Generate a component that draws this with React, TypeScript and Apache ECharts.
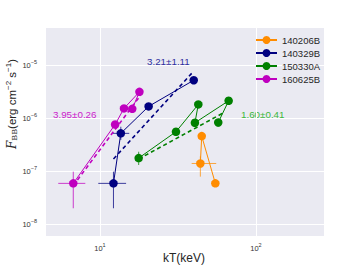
import React, { useEffect, useRef } from "react";
import * as echarts from "echarts";

const names = ["140206B", "140329B", "150330A", "160625B"];
const colors = ["#FF8C00", "#000080", "#008000", "#BF00BF"];

const kt140206 = [44.0, 44.9, 54.9];
const f140206 = [1.4e-7, 4.6e-7, 5.9e-8];
const kt140329 = [12.2, 13.6, 20.5, 39.9];
const f140329 = [5.9e-8, 5.18e-7, 1.67e-6, 5.2e-6];
const kt150330 = [17.7, 30.7, 42.7, 40.6, 66.8, 57.3];
const f150330 = [1.77e-7, 5.55e-7, 1.82e-6, 8.2e-7, 2.13e-6, 8.3e-7];
const kt160625 = [6.74, 12.5, 14.25, 17.9, 16.1];
const f160625 = [5.9e-8, 7.6e-7, 1.53e-6, 3.14e-6, 1.5e-6];

// error bars: [group, x, y, xlo, xhi, ylo, yhi]
const errGroup = [0, 0, 1, 1, 2, 2, 3];
const errX = [44.0, 44.9, 12.2, 13.6, 17.7, 57.3, 6.74];
const errY = [1.4e-7, 4.6e-7, 5.9e-8, 5.18e-7, 1.77e-7, 8.3e-7, 5.9e-8];
const errXlo = [38.7, 44.9, 9.75, 12.05, 17.7, 57.3, 5.4];
const errXhi = [55.6, 44.9, 14.7, 15.4, 17.7, 57.3, 8.05];
const errYlo = [7.9e-8, 3.9e-7, 2.0e-8, 3.9e-7, 1.31e-7, 6.9e-7, 2.0e-8];
const errYhi = [1.91e-7, 5.5e-7, 9.8e-8, 6.9e-7, 2.33e-7, 9.8e-7, 9.8e-8];

// fitted lines (endpoints)
const fit140329X = [12.2, 38.7];
const fit140329Y = [1.7e-7, 7.0e-6];
const fit150330X = [17.7, 63.0];
const fit150330Y = [1.7e-7, 1.3e-6];
const fit160625X = [6.74, 18.2];
const fit160625Y = [5.37e-8, 2.7e-6];

const slopeLabels = ["3.21±1.11", "1.60±0.41", "3.95±0.26"];

const zip = (a: number[], b: number[]) => a.map((v, i) => [v, b[i]]);

const supFmt = (v: number) => {
  const e = Math.log10(v);
  const r = Math.round(e);
  if (Math.abs(e - r) > 1e-6) return "";
  return "10{s|" + String(r).replace("-", "\u2212") + "}";
};

export default function App() {
  const ref = useRef<HTMLDivElement>(null);
  useEffect(() => {
    if (!ref.current) return;
    const chart = echarts.init(ref.current, undefined, { renderer: "svg" });
    const font = "Liberation Sans, Arial, sans-serif";
    const tickRich = {
      s: { fontSize: 5.5, fontFamily: font, color: "#333", padding: [0, 0, 6, 0] },
    };
    const pointSeries = [
      [kt140206, f140206],
      [kt140329, f140329],
      [kt150330, f150330],
      [kt160625, f160625],
    ].map(([x, y], i) => ({
      name: names[i],
      type: "line",
      data: zip(x, y),
      symbol: "circle",
      symbolSize: 8.5,
      showAllSymbol: true,
      z: 5,
      lineStyle: { width: 1, color: colors[i] },
      itemStyle: { color: colors[i] },
    }));
    const fits = [
      [fit140329X, fit140329Y, 1],
      [fit150330X, fit150330Y, 2],
      [fit160625X, fit160625Y, 3],
    ].map(([x, y, c]: any) => ({
      type: "line",
      name: "fit" + c,
      data: zip(x, y),
      symbol: "none",
      z: 4,
      lineStyle: { width: 1.6, type: [4, 3], color: colors[c] },
    }));
    const errData = errX.map((x, i) => [x, errY[i], errXlo[i], errXhi[i], errYlo[i], errYhi[i], errGroup[i]]);
    const errSeries = {
      type: "custom",
      name: "err",
      z: 3,
      data: errData,
      encode: { x: 0, y: 1 },
      renderItem: (params: any, api: any) => {
        const y = api.value(1);
        const x = api.value(0);
        const g = api.value(6);
        const l = api.coord([api.value(2), y]);
        const r = api.coord([api.value(3), y]);
        const b = api.coord([x, api.value(4)]);
        const t = api.coord([x, api.value(5)]);
        const style = { stroke: colors[g], lineWidth: 1, opacity: 0.75 };
        return {
          type: "group",
          children: [
            { type: "line", shape: { x1: l[0], y1: l[1], x2: r[0], y2: r[1] }, style },
            { type: "line", shape: { x1: b[0], y1: b[1], x2: t[0], y2: t[1] }, style },
          ],
        };
      },
    };
    chart.setOption({
      animation: false,
      grid: {
        left: 45, top: 27, right: 36, bottom: 34,
        show: true, backgroundColor: "#EAEAF2", borderWidth: 0,
      },
      legend: {
        data: names,
        orient: "vertical",
        left: 250,
        top: 30,
        itemWidth: 21,
        itemHeight: 10,
        itemGap: 3,
        textStyle: { fontSize: 9.5, lineHeight: 10, fontFamily: font, color: "#262626" },
      },
      xAxis: {
        type: "log",
        logBase: 10,
        min: 4.44,
        max: 273,
        axisLine: { show: false },
        axisTick: { show: false },
        splitLine: { show: true, lineStyle: { color: "#ffffff", width: 1 } },
        axisLabel: {
          showMinLabel: false,
          showMaxLabel: false,
          formatter: supFmt,
          fontSize: 7.5,
          fontFamily: font,
          color: "#333",
          margin: 6,
          rich: tickRich,
        },
      },
      yAxis: {
        type: "log",
        logBase: 10,
        min: 6.0e-9,
        max: 5.25e-5,
        axisLine: { show: false },
        axisTick: { show: false },
        splitLine: { show: true, lineStyle: { color: "#ffffff", width: 1 } },
        axisLabel: {
          showMinLabel: false,
          showMaxLabel: false,
          formatter: supFmt,
          fontSize: 7.5,
          fontFamily: font,
          color: "#333",
          margin: 8,
          rich: tickRich,
        },
      },
      graphic: [
        {
          type: "text", x: 147, y: 61.5,
          style: { text: slopeLabels[0], fill: "#2e2e9e", fontSize: 9.8, fontFamily: font, verticalAlign: "middle" },
        },
        {
          type: "text", x: 241, y: 114.5,
          style: { text: slopeLabels[1], fill: "#3cb83c", fontSize: 9.8, fontFamily: font, verticalAlign: "middle" },
        },
        {
          type: "text", x: 53, y: 114.5,
          style: { text: slopeLabels[2], fill: "#cc22cc", fontSize: 9.8, fontFamily: font, verticalAlign: "middle" },
        },
        {
          type: "text", x: 184, y: 258,
          style: { text: "kT(keV)", fill: "#262626", fontSize: 12, fontFamily: font, align: "center", verticalAlign: "middle" },
        },
        {
          type: "text", x: 12, y: 104, rotation: Math.PI / 2,
          style: {
            text: "{it|F}{sub|BB}(erg cm{sup|\u22122} s{sup|\u22121})",
            fill: "#262626", fontSize: 11.5, fontFamily: font,
            align: "center", verticalAlign: "middle",
            rich: {
              it: { fontSize: 12, fontStyle: "italic", fontFamily: "DejaVu Serif, serif", fill: "#262626" },
              sub: { fontSize: 8, fontFamily: "DejaVu Serif, serif", padding: [4, 0, 0, 0], fill: "#262626" },
              sup: { fontSize: 8, fontFamily: font, padding: [0, 0, 7, 0], fill: "#262626" },
            },
          },
        },
      ],
      series: [errSeries, ...fits, ...pointSeries],
    });
    return () => chart.dispose();
  }, []);
  return <div ref={ref} style={{ width: 360, height: 270, position: "absolute", left: 0, top: 0 }} />;
}
